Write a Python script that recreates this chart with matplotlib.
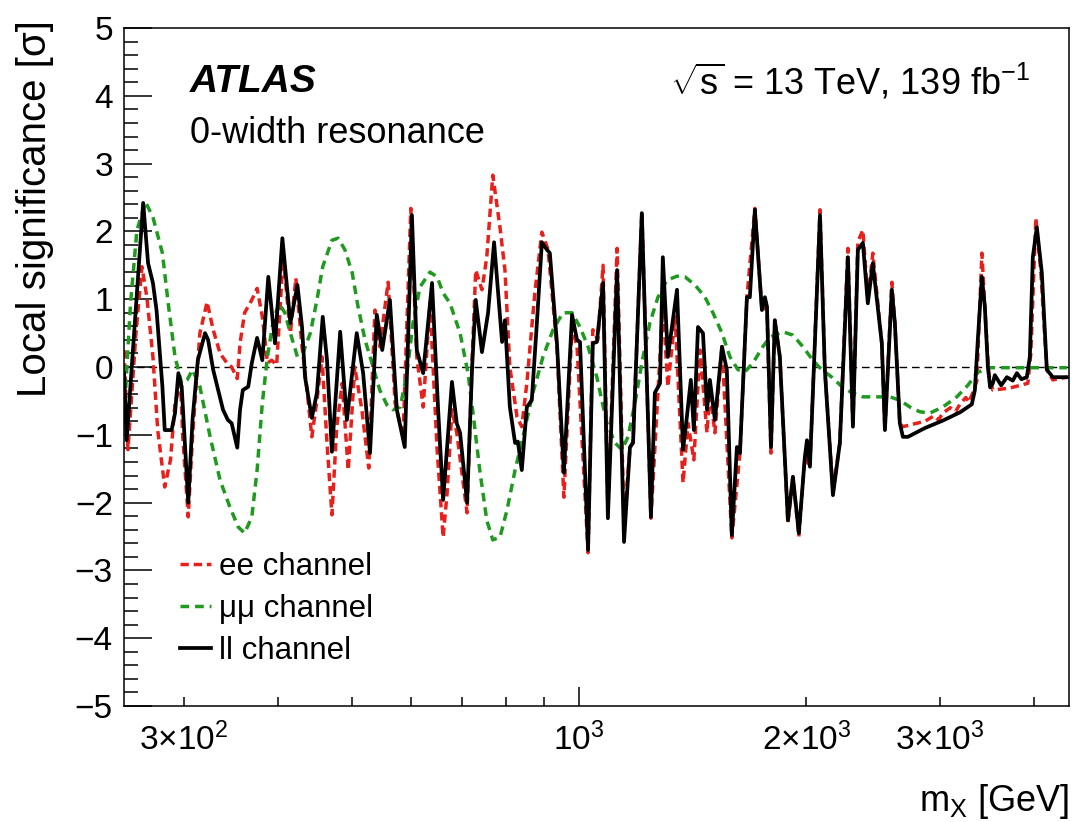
import matplotlib
matplotlib.use("Agg")
import matplotlib.pyplot as plt
from matplotlib.ticker import FixedLocator, FixedFormatter, MultipleLocator

plt.rcParams["font.family"] = ["Liberation Sans", "DejaVu Sans"]
plt.rcParams["mathtext.fontset"] = "custom"
plt.rcParams["mathtext.rm"] = "Liberation Sans"
plt.rcParams["mathtext.it"] = "Liberation Sans:italic"
plt.rcParams["mathtext.bf"] = "Liberation Sans:bold"

# ll channel (combined), mass in GeV, local significance in sigma
ll_mass = [
    250, 252, 265, 269, 273, 276, 281, 283, 289, 292,
    295, 298, 304, 308, 313, 320, 323, 328, 333, 338,
    343, 347, 353, 356, 359, 365, 369, 375, 381, 388,
    396, 405, 415, 424, 430, 434, 443, 450, 458, 464,
    471, 483, 493, 508, 518, 529, 540, 549, 562, 574,
    588, 601, 610, 622, 639, 651, 661, 679, 689, 696,
    711, 722, 730, 744, 758, 772, 791, 798, 810, 823,
    830, 840, 853, 866, 880, 893, 907, 915, 935, 955,
    979, 994, 1003, 1028, 1043, 1056, 1076, 1092, 1123, 1147,
    1168, 1179, 1211, 1245, 1260, 1280, 1291, 1311, 1348, 1373,
    1389, 1406, 1419, 1437, 1459, 1477, 1490, 1513, 1546, 1569,
    1593, 1618, 1633, 1668, 1683, 1709, 1746, 1762, 1773, 1795,
    1816, 1844, 1890, 1919, 1954, 1990, 2003, 2021, 2084, 2115,
    2168, 2214, 2269, 2304, 2339, 2375, 2411, 2448, 2516, 2540,
    2594, 2618, 2658, 2683, 2724, 2869, 3030, 3191, 3310, 3341,
    3371, 3413, 3444, 3476, 3500, 3529, 3550, 3583, 3620, 3683,
    3750, 3797, 3850, 3914, 3950, 3986, 4035, 4097, 4160, 4237,
    4421,
]
ll_sig = [
    -0.09, -1.08, 2.42, 1.53, 1.24, 0.84, -0.29, -0.93, -0.93, -0.68,
    -0.09, -0.29, -2.0, -0.78, 0.1, 0.5, 0.4, -0.04, -0.34, -0.63,
    -0.78, -0.83, -1.19, -0.63, -0.34, -0.29, 0.06, 0.43, 0.1, 1.33,
    0.35, 1.9, 0.65, 1.21, 0.59, -0.15, -0.75, -0.38, 0.74, 0.1,
    -1.25, 0.52, -0.78, 0.5, -0.09, -1.27, 0.77, 0.25, 0.99, -0.63,
    -1.18, 2.24, 0.25, -0.09, 1.24, -0.63, -1.96, -0.22, -0.83, -0.97,
    -2.0, 0.0, 0.99, 0.22, 0.8, 1.84, 0.37, 0.69, -0.59, -1.12,
    -1.1, -1.52, -0.59, -0.49, 0.69, 1.84, 1.73, 1.68, 0.35, -1.56,
    0.77, 0.4, 0.37, -2.7, 0.35, 0.37, 1.24, -2.23, 1.43, -2.58,
    -1.18, -1.12, 2.27, -2.21, -0.38, -0.24, 1.62, 0.15, 1.14, -1.22,
    -0.74, -0.19, -0.93, 0.59, 0.5, -0.63, -0.19, -0.78, 0.3, -0.04,
    -2.48, -1.18, -1.27, 1.03, 1.03, 2.32, 0.84, 1.03, 0.89, -1.18,
    0.69, 0.15, -2.26, -1.62, -2.45, -1.33, -1.08, -1.47, 2.24, -0.04,
    -1.89, -1.12, 1.62, -0.88, 1.73, 1.83, 0.94, 1.53, 0.35, -0.93,
    1.14, 0.65, -0.83, -1.03, -1.03, -0.9, -0.79, -0.67, -0.55, -0.34,
    0.4, 1.33, 0.89, 0.0, -0.3, -0.24, -0.12, -0.19, -0.27, -0.15,
    -0.2, -0.09, -0.18, -0.15, 0.15, 1.62, 2.06, 1.39, -0.04, -0.15,
    -0.15,
]

# ee channel
ee_mass = [
    250, 253, 259, 264, 268, 273, 277, 283, 288, 292,
    297, 299, 304, 308, 315, 322, 328, 335, 342, 347,
    353, 356, 361, 369, 375, 381, 387, 392, 398, 406,
    415, 422, 430, 437, 443, 450, 457, 464, 471, 478,
    486, 495, 505, 516, 527, 537, 545, 559, 571, 585,
    599, 610, 622, 635, 649, 661, 669, 679, 689, 711,
    722, 730, 744, 755, 769, 786, 798, 810, 828, 840,
    853, 874, 893, 910, 935, 955, 979, 994, 1028, 1043,
    1059, 1076, 1092, 1123, 1147, 1168, 1179, 1211, 1245, 1272,
    1291, 1311, 1340, 1373, 1394, 1419, 1446, 1477, 1490, 1513,
    1546, 1593, 1633, 1668, 1709, 1746, 1773, 1795, 1816, 1844,
    1890, 1919, 1954, 1990, 2021, 2084, 2115, 2168, 2214, 2269,
    2304, 2339, 2375, 2411, 2448, 2516, 2540, 2594, 2618, 2658,
    2683, 2869, 2950, 2990, 3030, 3100, 3150, 3191, 3250, 3280,
    3320, 3361, 3413, 3455, 3486, 3529, 3716, 3926, 3962, 4023,
    4085, 4160, 4237, 4421,
]
ee_sig = [
    0.25, -1.22, 0.44, 1.48, 1.03, 0.15, -0.93, -1.77, -1.37, -0.53,
    -0.24, -1.03, -2.21, -1.03, 0.5, 0.96, 0.55, 0.2, 0.06, 0.0,
    -0.17, 0.35, 0.8, 0.99, 1.16, 0.74, 0.06, 0.1, 0.03, 1.62,
    0.5, 1.31, 0.3, -0.38, -1.03, -0.49, 0.15, -1.12, -2.18, -0.88,
    -0.24, -1.52, 0.0, -0.63, -1.49, 0.84, 0.3, 1.25, -0.53, -1.03,
    2.34, 0.15, -0.59, 0.94, -1.22, -2.51, -1.86, -0.63, -0.97, -2.15,
    0.1, 1.43, 1.14, 1.62, 2.83, 2.06, 1.43, 0.0, -0.74, -0.88,
    -0.24, 1.09, 1.99, 1.73, 0.3, -1.92, 0.59, 0.3, -2.74, 0.55,
    0.4, 1.5, -2.11, 1.75, -2.3, -1.2, -1.1, 2.29, -2.23, -0.38,
    0.94, -0.29, 0.74, -1.71, -0.83, -1.37, 0.25, -0.97, -0.35, -0.97,
    0.3, -2.52, -1.27, 1.03, 2.34, 0.84, 0.89, -1.27, 0.69, 0.15,
    -2.3, -1.62, -2.5, -1.33, -1.47, 2.32, -0.04, -1.84, -1.12, 1.75,
    -0.88, 1.85, 2.02, 1.0, 1.68, 0.35, -0.93, 1.25, 0.65, -0.83,
    -0.88, -0.8, -0.72, -0.78, -0.68, -0.6, -0.66, -0.55, -0.45, -0.52,
    -0.38, -0.2, 1.68, 0.6, -0.1, -0.34, -0.31, -0.24, 0.2, 2.2,
    1.4, -0.04, -0.19, -0.15,
]

# mumu channel
mm_mass = [
    250, 255, 260, 267, 273, 281, 286, 292, 298, 303,
    308, 315, 325, 335, 345, 354, 361, 369, 375, 381,
    387, 394, 401, 408, 415, 424, 431, 441, 450, 458,
    471, 480, 490, 501, 510, 521, 532, 545, 557, 567,
    580, 592, 603, 616, 635, 649, 661, 675, 696, 713,
    724, 739, 755, 769, 786, 803, 823, 843, 869, 896,
    924, 952, 979, 1003, 1028, 1056, 1070, 1089, 1116, 1140,
    1161, 1186, 1211, 1241, 1272, 1307, 1348, 1381, 1424, 1468,
    1504, 1546, 1584, 1623, 1658, 1699, 1751, 1789, 1861, 1919,
    1978, 2039, 2096, 2161, 2228, 2297, 2375, 2479, 2579, 2658,
    2741, 2825, 2913, 3030, 3162, 3270, 3361, 3465, 3716, 4110,
    4421,
]
mm_sig = [
    -0.74, 0.94, 2.02, 2.43, 2.21, 1.68, 0.94, 0.15, -0.24, -0.19,
    -0.04, -0.29, -1.03, -1.67, -2.06, -2.36, -2.45, -2.21, -1.52, -0.53,
    0.15, 0.69, 0.94, 0.8, 0.5, 0.15, 0.2, 0.5, 0.99, 1.48,
    1.87, 1.9, 1.73, 1.39, 0.89, 0.4, 0.06, -0.34, -0.56, -0.63,
    -0.59, -0.09, 0.65, 1.18, 1.4, 1.33, 1.09, 0.94, 0.5, -0.09,
    -0.68, -1.52, -2.26, -2.55, -2.51, -2.11, -1.52, -1.03, -0.38, 0.15,
    0.55, 0.8, 0.8, 0.59, 0.3, -0.15, -0.45, -0.83, -1.12, -1.22,
    -1.03, -0.53, 0.06, 0.65, 1.03, 1.28, 1.34, 1.33, 1.21, 1.03,
    0.8, 0.5, 0.15, -0.04, -0.07, 0.06, 0.3, 0.44, 0.52, 0.47,
    0.3, 0.1, -0.04, -0.15, -0.29, -0.38, -0.44, -0.44, -0.44, -0.49,
    -0.59, -0.66, -0.68, -0.59, -0.44, -0.27, -0.09, -0.01, -0.01, -0.01,
    -0.01,
]

x_minor = [300, 400, 500, 600, 700, 800, 900, 2000, 3000, 4000]
x_minor_labels = [r"$3{\times}10^{2}$", "", "", "", "", "", "",
                  r"$2{\times}10^{3}$", r"$3{\times}10^{3}$", ""]

fig = plt.figure(figsize=(10.74, 8.22), dpi=100)
ax = fig.add_axes([0.1155, 0.1411, 0.8798, 0.8248])

ax.axhline(0, color="black", lw=1.0, ls=(0, (5.5, 3.5)), zorder=1)
ax.plot(ee_mass, ee_sig, color="#e8201c", lw=2.5, ls=(0, (2.4, 1.4)),
        label="ee channel", zorder=2)
ax.plot(mm_mass, mm_sig, color="#1f9a1f", lw=2.5, ls=(0, (2.5, 1.7)),
        label="μμ channel", zorder=3)
ax.plot(ll_mass, ll_sig, color="black", lw=2.7, label="ll channel", zorder=4)

ax.set_xscale("log")
ax.set_xlim(250, 4450)
ax.set_ylim(-5, 5)

ax.xaxis.set_major_locator(FixedLocator([1000]))
ax.xaxis.set_major_formatter(FixedFormatter([r"$10^{3}$"]))
ax.xaxis.set_minor_locator(FixedLocator(x_minor))
ax.xaxis.set_minor_formatter(FixedFormatter(x_minor_labels))
ax.yaxis.set_major_locator(MultipleLocator(1))
ax.yaxis.set_minor_locator(MultipleLocator(0.2))

ax.tick_params(axis="both", which="both", direction="in", width=1.1,
               labelsize=24, top=False, right=False)
ax.tick_params(axis="y", which="major", length=20, pad=8)
ax.tick_params(axis="y", which="minor", length=10)
ax.tick_params(axis="x", which="major", length=14, pad=12)
ax.tick_params(axis="x", which="minor", length=6.5, pad=12)
for sp in ax.spines.values():
    sp.set_linewidth(1.1)

ax.set_xlabel(r"m$_{\mathrm{X}}$ [GeV]", fontsize=26, ha="right")
ax.xaxis.set_label_coords(1.0, -0.112)
fig.text(0.0326, 0.976, "Local significance [σ]", rotation=90,
         ha="center", va="top", fontsize=29)

ax.text(0.0698, 0.920, "ATLAS", transform=ax.transAxes, fontsize=28,
        fontweight="bold", fontstyle="italic", va="center", ha="left")
ax.text(0.0698, 0.845, "0-width resonance", transform=ax.transAxes,
        fontsize=26, va="center", ha="left")
ax.text(0.9587, 0.920, r"$\sqrt{\mathrm{s}}$ = 13 TeV, 139 fb$^{-1}$",
        transform=ax.transAxes, fontsize=26, va="center", ha="right")

ax.legend(loc="upper left", bbox_to_anchor=(0.0593, 0.227), frameon=False,
          fontsize=22.5, handlelength=1.0, handletextpad=0.25,
          labelspacing=0.38, borderaxespad=0, borderpad=0)

fig.savefig("out.png", dpi=100)
